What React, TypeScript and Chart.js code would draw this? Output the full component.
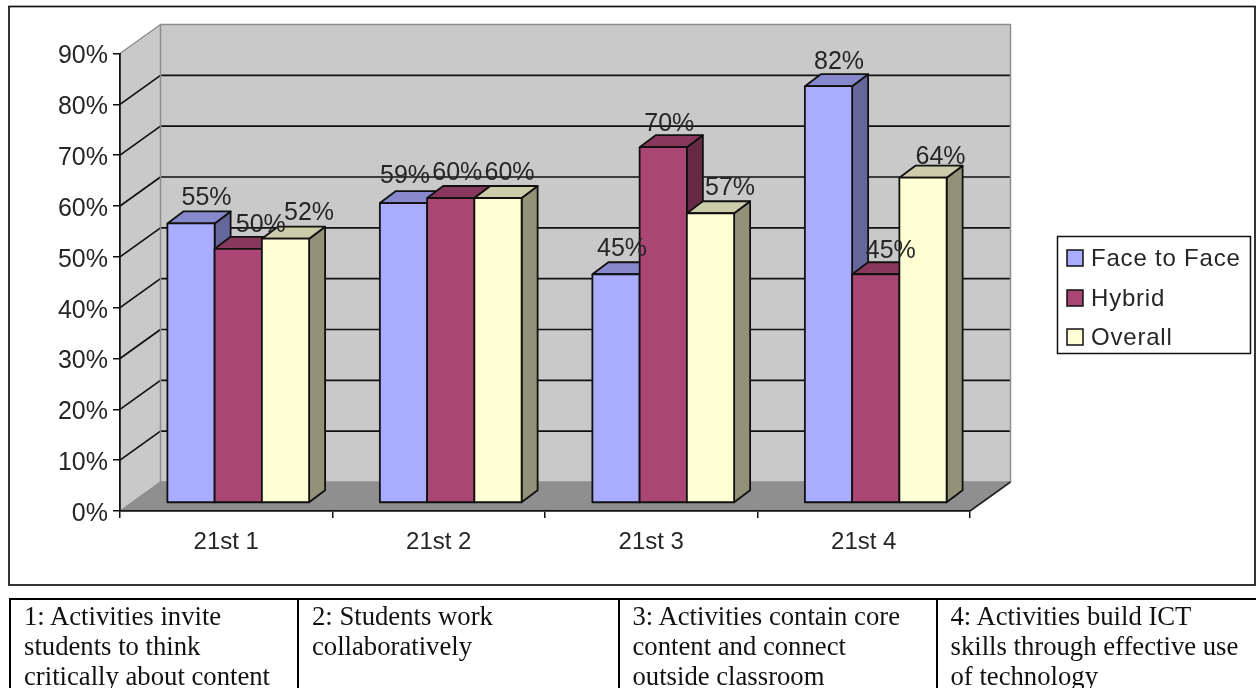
import React, { useEffect, useRef } from "react";
import { Chart, registerables } from "chart.js";

Chart.register(...registerables);

const categories = ["21st 1", "21st 2", "21st 3", "21st 4"];
const faceToFace = [55, 59, 45, 82];
const hybrid = [50, 60, 70, 45];
const overall = [52, 60, 57, 64];
const seriesNames = ["Face to Face", "Hybrid", "Overall"];
const seriesColors = ["#A9ACFF", "#AA4673", "#FFFFD6"];
const topColors = ["#8789CC", "#88385C", "#CCCCAB"];
const sideColors = ["#65679A", "#662A45", "#929278"];
const tableCells = [
  ["1: Activities invite", "students to think", "critically about content"],
  ["2: Students work", "collaboratively"],
  ["3: Activities contain core", "content and connect", "outside classroom"],
  ["4: Activities build ICT", "skills through effective use", "of technology"],
];
const tableColumnEdges = [9, 297, 617.5, 935.5, 1262];

const AREA = { left: 120, right: 970, top: 53.5, bottom: 511 };
const WALL = { dx: 40.5, dy: -29 };
const PLANE = { dx: 12, dy: -8 };
const BAR = { dx: 16, dy: -12 };
const INK = "#111111";
const TEXT = "#262626";
const SANS = "'Liberation Sans', Arial, sans-serif";
// hand placement of the value labels relative to each bar's front centre (series x category)
const LABEL_SHIFT_X = [
  [15.5, 1.5, 6, 10.5],
  [22.5, 6.5, 6, 15],
  [23.5, 11.5, 19.5, 17.5],
];
const LABEL_SHIFT_Y = [
  [-2, -4, -2, -1],
  [-1, -2, 0, 0],
  [-3, -2, -2, 2],
];

function poly(ctx: CanvasRenderingContext2D, pts: number[][], fill: string | null, stroke: string | null, lw = 1.8) {
  ctx.beginPath();
  pts.forEach(([x, y], i) => (i ? ctx.lineTo(x, y) : ctx.moveTo(x, y)));
  if (fill) {
    ctx.closePath();
    ctx.fillStyle = fill;
    ctx.fill();
  }
  if (stroke) {
    ctx.lineWidth = lw;
    ctx.strokeStyle = stroke;
    ctx.lineJoin = "round";
    ctx.stroke();
  }
}

const scene3d = {
  id: "scene3d",
  beforeDraw(chart: any) {
    const { ctx, scales } = chart;
    const { left, right, top, bottom } = chart.chartArea;
    ctx.save();
    ctx.lineWidth = 1.7;
    ctx.strokeStyle = INK;
    ctx.strokeRect(9, 6.5, 1246, 578.5);

    const bx0 = left + WALL.dx;
    const bx1 = right + WALL.dx;
    const by0 = top + WALL.dy;
    const by1 = bottom + WALL.dy;
    poly(ctx, [[bx0, by0], [bx1, by0], [bx1, by1], [bx0, by1]], "#C9C9C9", null);
    poly(ctx, [[left, top], [bx0, by0], [bx0, by1], [left, bottom]], "#C9C9C9", null);
    poly(ctx, [[left, bottom], [bx0, by1], [bx1, by1], [right, bottom]], "#8F8F8F", null);

    const y = scales.y;
    y.ticks.forEach((t: any) => {
      const py = y.getPixelForValue(t.value);
      if (t.value === y.max || t.value === y.min) return;
      poly(ctx, [[left, py], [bx0, py + WALL.dy], [bx1, py + WALL.dy]], null, INK, 1.7);
    });
    poly(ctx, [[left, top], [bx0, by0], [bx1, by0], [bx1, by1], [bx0, by1], [bx0, by0]], null, "#8E8E8E", 1.5);
    poly(ctx, [[left, bottom], [bx0, by1]], null, "#8E8E8E", 1.5);
    poly(ctx, [[bx1, by1], [right, bottom]], null, "#222222", 1.6);
    ctx.restore();
  },
  beforeDatasetsDraw(chart: any) {
    const { ctx } = chart;
    ctx.save();
    ctx.translate(PLANE.dx, PLANE.dy);
    chart.data.datasets.forEach((_: any, di: number) => {
      const meta = chart.getDatasetMeta(di);
      meta.data.forEach((el: any) => {
        const l = el.x - el.width / 2;
        const r = el.x + el.width / 2;
        poly(ctx, [[r, el.y], [r + BAR.dx, el.y + BAR.dy], [r + BAR.dx, el.base + BAR.dy], [r, el.base]], sideColors[di], INK);
        poly(ctx, [[l, el.y], [l + BAR.dx, el.y + BAR.dy], [r + BAR.dx, el.y + BAR.dy], [r, el.y]], topColors[di], INK);
      });
      meta.controller.draw();
      meta.data.forEach((el: any) => {
        const l = el.x - el.width / 2;
        const r = el.x + el.width / 2;
        poly(ctx, [[l, el.y], [r, el.y], [r, el.base], [l, el.base], [l, el.y]], null, INK);
      });
    });
    ctx.restore();
    return false;
  },
  afterDraw(chart: any) {
    const { ctx } = chart;
    ctx.save();
    ctx.fillStyle = TEXT;
    ctx.font = `25px ${SANS}`;
    ctx.textAlign = "center";
    ctx.textBaseline = "alphabetic";
    chart.data.datasets.forEach((ds: any, di: number) => {
      chart.getDatasetMeta(di).data.forEach((el: any, i: number) => {
        const x = el.x + PLANE.dx + LABEL_SHIFT_X[di][i];
        const y = el.y + PLANE.dy + BAR.dy - 4 + LABEL_SHIFT_Y[di][i];
        ctx.fillText(`${ds.data[i]}%`, x, y);
      });
    });

    // legend
    ctx.lineWidth = 1.5;
    ctx.strokeStyle = INK;
    ctx.strokeRect(1057.5, 236.5, 193, 117);
    ctx.textAlign = "left";
    ctx.textBaseline = "middle";
    ctx.font = `24px ${SANS}`;
    (ctx as any).letterSpacing = "0.8px";
    const rows = [258, 298, 337];
    chart.data.datasets.forEach((ds: any, di: number) => {
      const cy = rows[di];
      ctx.fillStyle = ds.backgroundColor;
      ctx.fillRect(1067, cy - 8, 16, 16);
      ctx.strokeRect(1067, cy - 8, 16, 16);
      ctx.fillStyle = TEXT;
      ctx.fillText(ds.label, 1091, cy + 1);
    });
    ctx.restore();
  },
};

export default function App() {
  const ref = useRef<HTMLCanvasElement | null>(null);

  useEffect(() => {
    const seriesValues = [faceToFace, hybrid, overall];
    const chart = new Chart(ref.current as HTMLCanvasElement, {
      type: "bar",
      data: {
        labels: categories,
        datasets: seriesNames.map((label, i) => ({
          label,
          data: seriesValues[i],
          backgroundColor: seriesColors[i],
          borderWidth: 0,
          barPercentage: 1,
          categoryPercentage: 0.667,
        })),
      },
      options: {
        responsive: false,
        animation: false,
        events: [],
        layout: {
          autoPadding: false,
          padding: { left: 0, right: 1256 - AREA.right, top: AREA.top, bottom: 0 },
        },
        plugins: { legend: { display: false }, tooltip: { enabled: false }, title: { display: false } },
        scales: {
          x: {
            afterFit: (s: any) => { s.height = 688 - AREA.bottom; },
            grid: { drawOnChartArea: false, drawTicks: true, tickLength: 7, color: INK, lineWidth: 1.5 },
            border: { display: true, color: INK, width: 1.8 },
            ticks: { color: TEXT, font: { family: SANS, size: 24 }, padding: 10, maxRotation: 0 },
          },
          y: {
            min: 0,
            max: 90,
            afterFit: (s: any) => { s.width = AREA.left; },
            grid: { drawOnChartArea: false, drawTicks: true, tickLength: 7, color: INK, lineWidth: 1.5 },
            border: { display: true, color: INK, width: 1.8 },
            ticks: {
              stepSize: 10,
              color: TEXT,
              font: { family: SANS, size: 25 },
              padding: 5,
              labelOffset: 3,
              callback: (v: any) => `${v}%`,
            },
          },
        },
      },
      plugins: [scene3d],
    } as any);
    return () => chart.destroy();
  }, []);

  return (
    <div style={{ position: "fixed", left: 0, top: 0, width: 1256, height: 688, overflow: "hidden", background: "#fff" }}>
      <canvas ref={ref} width={1256} height={688} style={{ position: "absolute", left: 0, top: 0, display: "block" }} />
      {tableCells.map((lines, i) => (
        <div
          key={i}
          style={{
            position: "absolute",
            left: tableColumnEdges[i],
            top: 598,
            width: tableColumnEdges[i + 1] - tableColumnEdges[i],
            height: 100,
            boxSizing: "border-box",
            borderTop: "2px solid #000",
            borderLeft: "2px solid #000",
            paddingLeft: 13,
            paddingTop: 0.5,
            fontFamily: "'Liberation Serif', 'Times New Roman', serif",
            fontSize: 26.7,
            lineHeight: "30px",
            color: "#111",
            whiteSpace: "nowrap",
          }}
        >
          {lines.map((t, j) => (
            <div key={j}>{t}</div>
          ))}
        </div>
      ))}
    </div>
  );
}
